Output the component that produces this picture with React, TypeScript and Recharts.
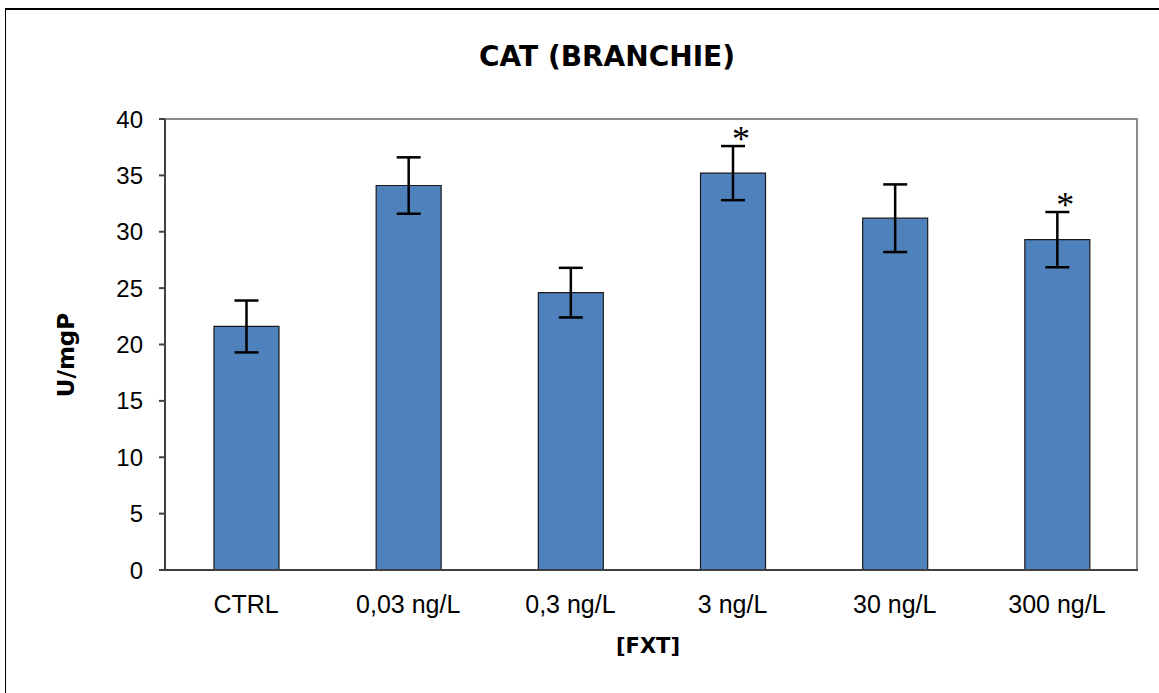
import React from 'react'
import { BarChart, Bar, XAxis, YAxis, ErrorBar, LabelList } from 'recharts'

const groups = ['CTRL', '0,03 ng/L', '0,3 ng/L', '3 ng/L', '30 ng/L', '300 ng/L']
const means = [21.6, 34.1, 24.6, 35.2, 31.2, 29.3]
const sems = [2.3, 2.5, 2.2, 2.4, 3.0, 2.45]
const signif = [false, false, false, true, false, true]
const yTicks = [0, 5, 10, 15, 20, 25, 30, 35, 40]
const boundaryTicks = [0, 1, 2, 3, 4, 5, 6]

const data = groups.map((g, i) => ({ g, v: means[i], e: sems[i], s: signif[i] }))

const W = 1159, H = 693
const PL = 165, PT = 119, PR = 1138, PB = 570
const boldFont = 'DejaVu Sans, Verdana, sans-serif'

const Star = (props: any) => {
  const { x, y, width, height, value, index } = props
  if (!signif[index]) return null
  const pxPerUnit = height / value
  const top = y - sems[index] * pxPerUnit
  return (
    <text x={x + width / 2 + 8} y={top + 5} textAnchor="middle" fontSize={36}
      fontFamily="Liberation Serif" fill="#000">*</text>
  )
}

export default function App() {
  return (
    <div style={{ position: 'absolute', left: 0, top: 0, width: W, height: H, background: '#fff', fontFamily: 'Liberation Sans, Arial, sans-serif' }}>
      <div style={{ position: 'absolute', left: 5, top: 8, width: W, height: H, borderTop: '2px solid #000', borderLeft: '1.5px solid #000' }} />
      <div style={{ position: 'absolute', left: 0, width: 1214, top: 57, transform: 'translateY(-50%)', lineHeight: 1, textAlign: 'center', fontSize: 28, fontWeight: 'bold', fontFamily: boldFont }}>CAT (BRANCHIE)</div>
      <div style={{ position: 'absolute', left: 0, width: 1296, top: 646, transform: 'translateY(-50%)', lineHeight: 1, textAlign: 'center', fontSize: 21, fontWeight: 'bold', fontFamily: boldFont }}>[FXT]</div>
      <div style={{ position: 'absolute', left: 66, top: 355, transform: 'translate(-50%,-50%) rotate(-90deg)', lineHeight: 1, fontSize: 23, fontWeight: 'bold', fontFamily: boldFont, whiteSpace: 'nowrap' }}>U/mgP</div>
      <div style={{ position: 'absolute', left: PL, top: PT - 1, width: PR - PL, height: PB - PT, borderTop: '2px solid #8c8c8c', borderRight: '2px solid #8c8c8c', boxSizing: 'border-box', pointerEvents: 'none' }} />
      <BarChart width={W} height={H} data={data} barCategoryGap="30%"
        margin={{ top: PT, right: W - PR, left: PL - 70, bottom: H - PB - 50 }}>
        <XAxis xAxisId="b" type="number" domain={[0, 6]} ticks={boundaryTicks} height={0}
          axisLine={false} tick={false} tickLine={{ stroke: '#404040', strokeWidth: 2 }} tickSize={7} />
        <XAxis dataKey="g" height={50} interval={0} axisLine={{ stroke: '#404040', strokeWidth: 2 }}
          tickLine={false} tick={{ fill: '#000', fontSize: 25 }} tickMargin={19} />
        <YAxis width={70} domain={[0, 40]} ticks={yTicks} interval={0} allowDataOverflow
          axisLine={{ stroke: '#404040', strokeWidth: 2 }} tickLine={{ stroke: '#404040', strokeWidth: 2 }}
          tickSize={6} tick={{ fill: '#000', fontSize: 24 }} tickMargin={16} />
        <Bar dataKey="v" fill="#4F81BD" stroke="#1a1a1a" strokeWidth={1.2} barSize={65} isAnimationActive={false}>
          <ErrorBar dataKey="e" width={12} stroke="#000" strokeWidth={2.5} />
          <LabelList dataKey="v" content={Star} />
        </Bar>
      </BarChart>
    </div>
  )
}
